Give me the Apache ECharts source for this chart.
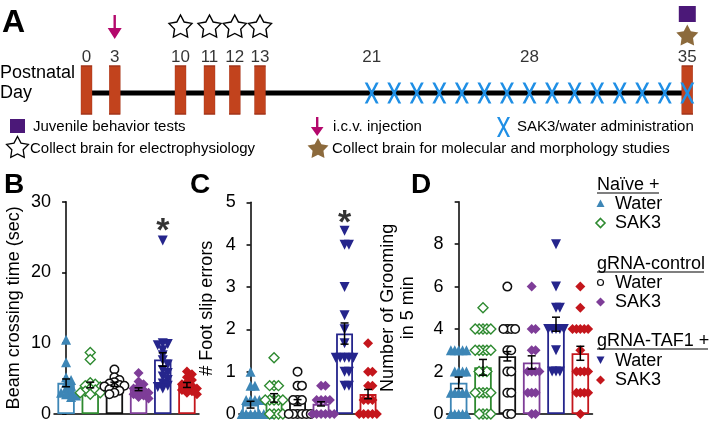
<!DOCTYPE html>
<html><head><meta charset="utf-8">
<script src="https://cdn.jsdelivr.net/npm/echarts@6/dist/echarts.min.js"></script>
<style>html,body{margin:0;padding:0;background:#fff}#c{width:710px;height:423px}</style>
</head><body><div id="c"></div>
<script>
// ================= DATA =================
// Panel A timeline (postnatal days)
const timelineRange = [0, 35];
const sessionDays = [0, 3, 10, 11, 12, 13, 35];
const dayLabels = [0, 3, 10, 11, 12, 13, 21, 28, 35];
const injectionDays = [3];
const ephysDays = [10, 11, 12, 13];
const treatmentDays = [21, 22, 23, 24, 25, 26, 27, 28, 29, 30, 31, 32, 33, 34, 35];
const behaviorDays = [35];
const molecularDays = [35];

// Groups
const groupNames = ['Naïve + Water', 'Naïve + SAK3', 'gRNA-control + Water', 'gRNA-control + SAK3', 'gRNA-TAF1 + Water', 'gRNA-TAF1 + SAK3'];

// Panel B: beam crossing time (sec)
const beamNaiveWater = [10.5, 7.3, 5.2, 4.8, 4.4, 4.0, 3.6, 3.2, 3.0, 2.8, 2.6, 2.4];
const beamNaiveSAK3 = [8.7, 7.7, 4.4, 4.2, 4.0, 3.8, 3.6, 3.4, 3.2, 3.0, 3.0, 2.8];
const beamCtrlWater = [6.3, 5.2, 4.8, 4.5, 4.3, 4.1, 4.0, 3.9, 3.7, 3.5, 3.3, 3.0, 2.8];
const beamCtrlSAK3 = [5.8, 4.6, 4.2, 3.9, 3.6, 3.4, 3.2, 3.0, 2.8, 2.6, 2.4, 2.2];
const beamTafWater = [24.5, 10.0, 9.9, 9.7, 9.0, 8.3, 7.6, 7.0, 6.2, 5.8, 5.3, 4.8, 4.3, 4.0, 3.8, 3.6];
const beamTafSAK3 = [6.0, 5.6, 5.2, 4.8, 4.5, 4.2, 4.0, 3.8, 3.6, 3.4, 3.2, 3.0, 2.8];
const beamMeans = [4.4, 4.1, 4.2, 3.5, 7.7, 4.1];
const beamSEM = [0.55, 0.4, 0.3, 0.2, 0.95, 0.35];
const beamSignif = [4, 26.7];

// Panel C: foot slip errors
const slipNaiveWater = [1, 0.67, 0.67, 0.33, 0.33, 0.33, 0.33, 0, 0, 0, 0, 0, 0, 0, 0];
const slipNaiveSAK3 = [1.33, 0.67, 0.67, 0.67, 0.33, 0.33, 0.33, 0.33, 0.33, 0, 0, 0, 0];
const slipCtrlWater = [1, 0.67, 0.67, 0.33, 0.33, 0.33, 0, 0, 0, 0, 0, 0];
const slipCtrlSAK3 = [0.67, 0.67, 0.33, 0.33, 0.33, 0.33, 0, 0, 0, 0, 0, 0];
const slipTafWater = [4.33, 4, 4, 3, 2.33, 2, 1.67, 1.33, 1.33, 1.33, 1.33, 1.33, 1, 1, 0.67, 0.67];
const slipTafSAK3 = [1.67, 1, 1, 0.67, 0.67, 0.33, 0.33, 0.33, 0, 0, 0, 0, 0, 0];
const slipMeans = [0.22, 0.38, 0.27, 0.24, 1.9, 0.47];
const slipSEM = [0.08, 0.1, 0.07, 0.05, 0.25, 0.11];
const slipSignif = [4, 4.65];

// Panel D: number of grooming in 5 min
const groomNaiveWater = [3, 3, 3, 3, 3, 2, 2, 2, 2, 1, 1, 1, 1, 1, 0, 0, 0, 0, 0];
const groomNaiveSAK3 = [5, 4, 4, 4, 4, 4, 3, 3, 3, 3, 3, 2, 2, 2, 1, 1, 1, 1, 1, 0, 0, 0, 0];
const groomCtrlWater = [6, 4, 4, 4, 4, 3, 3, 2, 2, 1, 1, 0, 0];
const groomCtrlSAK3 = [6, 4, 4, 3, 3, 2, 2, 2, 2, 1, 1, 1, 0, 0];
const groomTafWater = [8, 6, 5, 5, 4, 4, 4, 4, 4, 3, 2, 2, 2];
const groomTafSAK3 = [6, 5, 4, 4, 4, 4, 4, 3, 2, 2, 2, 2, 1, 1, 1, 1, 0];
const groomMeans = [1.47, 2.2, 2.72, 2.43, 4.23, 2.86];
const groomSEM = [0.27, 0.37, 0.22, 0.31, 0.33, 0.33];

// ================= STYLE / LAYOUT =================
const FONT = 'Liberation Sans, Arial, Helvetica, sans-serif';
const groupStyles = [
  {color: '#3d86b6', symbol: 'triangle', size: 10, fill: '#3d86b6', stroke: '#3d86b6', bw: 0},
  {color: '#2e8a30', symbol: 'diamond', size: 10, fill: '#ffffff', stroke: '#2e8a30', bw: 1.4},
  {color: '#111111', symbol: 'circle', size: 8.5, fill: '#ffffff', stroke: '#111111', bw: 1.5},
  {color: '#7e3d98', symbol: 'diamond', size: 10, fill: '#7e3d98', stroke: '#7e3d98', bw: 0},
  {color: '#25258c', symbol: 'triangle', rotate: 180, size: 10, fill: '#25258c', stroke: '#25258c', bw: 0},
  {color: '#c4161c', symbol: 'diamond', size: 10, fill: '#c4161c', stroke: '#c4161c', bw: 0}
];

function starPts(cx, cy, R, ratio) {
  const p = [];
  for (let k = 0; k < 10; k++) {
    const a = -Math.PI / 2 + k * Math.PI / 5;
    const r = k % 2 ? R * ratio : R;
    p.push([cx + r * Math.cos(a), cy + r * Math.sin(a)]);
  }
  return p;
}
function starPath() {
  const p = starPts(50, 50, 50, 0.52);
  return 'path://M' + p.map(q => q[0].toFixed(2) + ',' + q[1].toFixed(2)).join(' L') + ' Z';
}
const STAR = starPath();
const XPATH = 'path://M0,0 L2.8,0 L7,8.1 L11.2,0 L14,0 L8.5,10.5 L14,21 L11.2,21 L7,12.9 L2.8,21 L0,21 L5.5,10.5 Z';
const ARROW = 'path://M5.8,0 L8.2,0 L8.2,13 L14,13 L7,24 L0,13 L5.8,13 Z';

// timeline grids (piecewise day scale as in the original schematic)
const tlGrids = [
  {left: 86.5, width: 600.8, min: timelineRange[0], max: timelineRange[1]},
  {left: 86.5, width: 94, min: 0, max: 10},
  {left: 209.5, width: 50.5, min: 11, max: 13},
  {left: 371.7, width: 315.6, min: 21, max: 35}
];
function tlIndex(d) { return d <= 10 ? 1 : (d <= 13 ? 2 : 3); }

// panel grids
const panels = [
  {left: 54, top: 201.7, width: 145, height: 214.3, min: 0, max: 30, interval: 10, name: 'Beam crossing time (sec)', nameGap: 30, step: 5,
   groups: [beamNaiveWater, beamNaiveSAK3, beamCtrlWater, beamCtrlSAK3, beamTafWater, beamTafSAK3], means: beamMeans, sem: beamSEM, sig: beamSignif},
  {left: 238.8, top: 202.3, width: 141, height: 213, min: 0, max: 5, interval: 1, name: '# Foot slip errors', nameGap: 22, step: 4.4,
   groups: [slipNaiveWater, slipNaiveSAK3, slipCtrlWater, slipCtrlSAK3, slipTafWater, slipTafSAK3], means: slipMeans, sem: slipSEM, sig: slipSignif},
  {left: 446.5, top: 201.7, width: 146, height: 213.6, min: 0, max: 10, interval: 2, name: 'Number of Grooming\nin 5 min', nameGap: 28, hideTop: true, step: 3.9,
   groups: [groomNaiveWater, groomNaiveSAK3, groomCtrlWater, groomCtrlSAK3, groomTafWater, groomTafSAK3], means: groomMeans, sem: groomSEM, sig: null}
];

function swarm(values, pxPerUnit, catPx, step) {
  const placed = [];
  const out = [];
  const sorted = values.slice().sort((a, b) => b - a);
  for (const v of sorted) {
    const y = v * pxPerUnit;
    let best = 0;
    for (let n = 0; n < 60; n++) {
      const cand = n === 0 ? 0 : (n % 2 ? 1 : -1) * Math.ceil(n / 2) * step;
      if (placed.every(q => Math.hypot(q.x - cand, q.y - y) >= step - 0.01)) { best = cand; break; }
    }
    placed.push({x: best, y: y});
    out.push([best / catPx, v]);
  }
  return out;
}

// ================= OPTION =================
const grid = [], xAxis = [], yAxis = [], series = [];
tlGrids.forEach((g, i) => {
  grid.push({left: g.left, width: g.width, top: 83, height: 20});
  xAxis.push({type: 'value', gridIndex: i, min: g.min, max: g.max, show: false});
  yAxis.push({type: 'value', gridIndex: i, min: -1, max: 1, show: false});
});
// timeline line
series.push({type: 'line', xAxisIndex: 0, yAxisIndex: 0, data: [[timelineRange[0], 0], [timelineRange[1], 0]],
  symbol: 'none', lineStyle: {color: '#000', width: 5}, z: 1, silent: true});

function tlScatter(days, opts) {
  [1, 2, 3].forEach(g => {
    const ds = days.filter(d => tlIndex(d) === g);
    if (!ds.length) return;
    series.push(Object.assign({type: 'scatter', xAxisIndex: g, yAxisIndex: g, data: ds.map(d => [d, 0]), silent: true}, opts));
  });
}
tlScatter(sessionDays, {symbol: 'rect', symbolSize: [11, 48], symbolOffset: [0, -3], z: 3,
  itemStyle: {color: '#c2431d', borderColor: '#a3341a', borderWidth: 0.8, opacity: 1}});
tlScatter(treatmentDays, {symbol: XPATH, symbolSize: [14, 21], z: 5, itemStyle: {color: '#1f8fe5', opacity: 1}});
tlScatter(dayLabels, {symbol: 'circle', symbolSize: 1, z: 5, itemStyle: {color: 'rgba(0,0,0,0)'},
  label: {show: true, position: 'inside', offset: [0, -36], formatter: p => String(p.value[0]), fontSize: 17, color: '#000', fontFamily: FONT}});
tlScatter(injectionDays, {symbol: ARROW, symbolSize: [14, 24], symbolOffset: [0, -66], z: 5, itemStyle: {color: '#b4086c', opacity: 1}});
tlScatter(ephysDays, {symbol: STAR, symbolSize: [23, 22], symbolOffset: [0, -67], z: 5,
  itemStyle: {color: '#fff', borderColor: '#000', borderWidth: 1.4, opacity: 1}});
tlScatter(behaviorDays, {symbol: 'rect', symbolSize: [17, 16], symbolOffset: [0, -79], z: 5, itemStyle: {color: '#4b1878', opacity: 1}});
tlScatter(molecularDays, {symbol: STAR, symbolSize: [22, 21], symbolOffset: [0, -58], z: 5, itemStyle: {color: '#8c6a3c', opacity: 1}});

panels.forEach((p, pi) => {
  const gi = 4 + pi;
  const xc = 4 + pi * 2, xv = 5 + pi * 2;
  grid.push({left: p.left, top: p.top, width: p.width, height: p.height});
  xAxis.push({type: 'category', gridIndex: gi, data: groupNames, boundaryGap: true,
    axisLine: {lineStyle: {color: '#000', width: 1.5}}, axisTick: {show: false}, axisLabel: {show: false}});
  xAxis.push({type: 'value', gridIndex: gi, min: -0.5, max: 5.5, show: false});
  yAxis.push({type: 'value', gridIndex: gi, min: p.min, max: p.max, interval: p.interval,
    name: p.name, nameLocation: 'middle', nameRotate: 90, nameGap: p.nameGap,
    nameTextStyle: {fontSize: 18, color: '#000', fontFamily: FONT, lineHeight: 20},
    axisLine: {show: true, lineStyle: {color: '#000', width: 1.5}},
    axisTick: {show: true, length: 4, lineStyle: {color: '#000', width: 1.5}},
    axisLabel: {fontSize: 18, color: '#000', fontFamily: FONT, margin: 3,
      formatter: v => (p.hideTop && v === p.max) ? '' : String(v)},
    splitLine: {show: false}});
  const catPx = p.width / 6;
  const pxPerUnit = p.height / (p.max - p.min);
  // bars
  series.push({type: 'bar', xAxisIndex: xc, yAxisIndex: gi, barWidth: '72%', z: 2, silent: true,
    data: p.means.map((m, i) => ({value: m, itemStyle: {color: '#fff', borderColor: groupStyles[i].color, borderWidth: 1.8}}))});
  // points
  p.groups.forEach((vals, i) => {
    const st = groupStyles[i];
    series.push({type: 'scatter', xAxisIndex: xv, yAxisIndex: gi, z: 3, silent: true,
      symbol: st.symbol, symbolSize: st.size, symbolRotate: st.rotate || 0,
      itemStyle: {color: st.fill, borderColor: st.stroke, borderWidth: st.bw, opacity: 1},
      data: swarm(vals, pxPerUnit, catPx, p.step).map(d => [i + d[0], d[1]])});
  });
  // error bars
  series.push({type: 'custom', xAxisIndex: xv, yAxisIndex: gi, z: 6, silent: true,
    data: p.means.map((m, i) => [i, m - p.sem[i], m + p.sem[i]]),
    encode: {x: 0, y: [1, 2]},
    renderItem: (params, api) => {
      const x = api.value(0);
      const lo = api.coord([x, api.value(1)]);
      const hi = api.coord([x, api.value(2)]);
      const w = 4;
      const s = {stroke: '#000', lineWidth: 1.5};
      return {type: 'group', children: [
        {type: 'line', shape: {x1: lo[0], y1: lo[1], x2: hi[0], y2: hi[1]}, style: s},
        {type: 'line', shape: {x1: lo[0] - w, y1: lo[1], x2: lo[0] + w, y2: lo[1]}, style: s},
        {type: 'line', shape: {x1: hi[0] - w, y1: hi[1], x2: hi[0] + w, y2: hi[1]}, style: s}
      ]};
    }});
  if (p.sig) {
    series.push({type: 'scatter', xAxisIndex: xv, yAxisIndex: gi, z: 7, silent: true,
      symbol: 'circle', symbolSize: 1, itemStyle: {color: 'rgba(0,0,0,0)'},
      data: [p.sig],
      label: {show: true, position: 'inside', formatter: '*', fontSize: 34, fontWeight: 'bold', color: '#000', fontFamily: FONT, offset: [0, 7]}});
  }
});

// ================= GRAPHIC (titles, legends) =================
const T = (text, x, y, size, extra) => Object.assign({type: 'text', x: x, y: y, silent: true,
  style: Object.assign({text: text, fontSize: size, fontFamily: FONT, fill: '#000', textVerticalAlign: 'middle'}, extra || {})});
const graphic = [
  T('A', 2, 23, 32, {fontWeight: 'bold'}),
  T('B', 4, 185, 28, {fontWeight: 'bold'}),
  T('C', 190, 185, 28, {fontWeight: 'bold'}),
  T('D', 411, 185, 28, {fontWeight: 'bold'}),
  T('Postnatal', 0, 73, 18),
  T('Day', 0, 93, 18),
  // legend A
  {type: 'rect', shape: {x: 10, y: 119, width: 15, height: 14}, style: {fill: '#4b1878'}, silent: true},
  T('Juvenile behavior tests', 33, 127, 15),
  {type: 'polygon', shape: {points: starPts(17.5, 148, 11.5, 0.52)}, style: {fill: '#fff', stroke: '#000', lineWidth: 1.3}, silent: true},
  T('Collect brain for electrophysiology', 30, 149, 15),
  {type: 'polygon', shape: {points: [[316, 117], [318.4, 117], [318.4, 127], [323.5, 127], [317.2, 136], [310.9, 127], [316, 127]]}, style: {fill: '#b4086c'}, silent: true},
  T('i.c.v. injection', 333, 127, 15),
  {type: 'polygon', shape: {points: starPts(318, 149, 11, 0.52)}, style: {fill: '#8c6a3c'}, silent: true},
  T('Collect brain for molecular and morphology studies', 332, 149, 15),
  {type: 'polygon', shape: {points: [[497, 117], [499.6, 117], [503.5, 124.7], [507.4, 117], [510, 117], [504.8, 127], [510, 137], [507.4, 137], [503.5, 129.3], [499.6, 137], [497, 137], [502.2, 127]]}, style: {fill: '#1f8fe5'}, silent: true},
  T('SAK3/water administration', 517, 127, 15),
  // legend right
  T('Naïve +', 597, 185, 18),
  {type: 'line', shape: {x1: 597, y1: 193, x2: 659, y2: 193}, style: {stroke: '#000', lineWidth: 1.2}, silent: true},
  T('Water', 615, 204, 18),
  T('SAK3', 615, 223, 18),
  T('gRNA-control', 597, 264, 18),
  {type: 'line', shape: {x1: 597, y1: 272, x2: 704, y2: 272}, style: {stroke: '#000', lineWidth: 1.2}, silent: true},
  T('Water', 615, 283, 18),
  T('SAK3', 615, 302, 18),
  T('gRNA-TAF1 +', 597, 341, 18),
  {type: 'line', shape: {x1: 597, y1: 349, x2: 708, y2: 349}, style: {stroke: '#000', lineWidth: 1.2}, silent: true},
  T('Water', 615, 361, 18),
  T('SAK3', 615, 380, 18),
  {type: 'polygon', shape: {points: [[600.5, 199.5], [604.5, 207], [596.5, 207]]}, style: {fill: groupStyles[0].fill}, silent: true},
  {type: 'polygon', shape: {points: [[600.5, 218.5], [605, 223], [600.5, 227.5], [596, 223]]}, style: {fill: '#fff', stroke: groupStyles[1].stroke, lineWidth: 1.6}, silent: true},
  {type: 'circle', shape: {cx: 600.5, cy: 282.5, r: 3}, style: {fill: '#fff', stroke: '#111', lineWidth: 1.2}, silent: true},
  {type: 'polygon', shape: {points: [[600.5, 297.5], [605, 302], [600.5, 306.5], [596, 302]]}, style: {fill: groupStyles[3].fill}, silent: true},
  {type: 'polygon', shape: {points: [[596.5, 356.5], [604.5, 356.5], [600.5, 364]]}, style: {fill: groupStyles[4].fill}, silent: true},
  {type: 'polygon', shape: {points: [[600.5, 375.5], [605, 380], [600.5, 384.5], [596, 380]]}, style: {fill: groupStyles[5].fill}, silent: true}
];

const chart = echarts.init(document.getElementById('c'), null, {renderer: 'canvas', width: 710, height: 423});
chart.setOption({animation: false, backgroundColor: '#fff', grid, xAxis, yAxis, series, graphic});
</script></body></html>
